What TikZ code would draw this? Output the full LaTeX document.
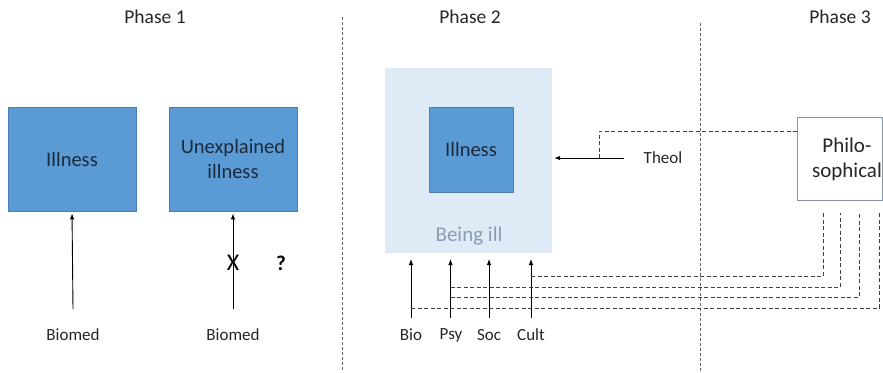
\documentclass[tikz,border=0pt]{standalone}
\usepackage{fontspec}
\setmainfont{Carlito}
\usetikzlibrary{arrows.meta}
\definecolor{boxblue}{HTML}{5B9BD5}
\definecolor{boxedge}{HTML}{4A7EB0}
\definecolor{lightbg}{HTML}{DEEAF6}
\definecolor{darktext}{HTML}{1C2A3A}
\definecolor{beingill}{HTML}{8A9DB2}
\definecolor{philedge}{HTML}{8496AC}
\definecolor{labeltext}{HTML}{262626}
\tikzset{
  bluebox/.style={draw=boxedge, fill=boxblue, line width=0.8pt, inner sep=0pt, align=center,
    text=darktext, font=\fontsize{20.5}{25}\selectfont},
  lbl/.style={text=labeltext, font=\fontsize{17}{20}\selectfont, inner sep=0pt},
  phaselbl/.style={text=black!85, font=\fontsize{19.5}{22}\selectfont, inner sep=0pt},
  divider/.style={draw=black!60, line width=0.9pt, dash pattern=on 2.5pt off 2.5pt},
  conn/.style={draw=black!75, line width=0.8pt, dash pattern=on 4pt off 2.5pt},
  arr/.style={draw=black, line width=0.9pt, -{Latex[length=6pt,width=4.5pt]}},
}
\begin{document}
\begin{tikzpicture}[x=1pt,y=-1pt]
\useasboundingbox[fill=white] (0,0) rectangle (883,372);

% phase labels
\node[phaselbl] (ph1) at (155,17) {Phase 1};
\node[phaselbl] (ph2) at (470,17) {Phase 2};
\node[phaselbl] (ph3) at (840,17) {Phase 3};

% dividers
\coordinate (d1t) at (342,17);
\coordinate (d1b) at (342,372);
\coordinate (d2t) at (700.5,23);
\coordinate (d2b) at (700.5,372);
\draw[divider] (d1t) -- (d1b);
\draw[divider] (d2t) -- (d2b);

% Phase 1
\node[bluebox, minimum width=128pt, minimum height=104pt] (ill1) at (72,159) {Illness};
\node[bluebox, minimum width=128pt, minimum height=104pt] (unex) at (233,159) {Unexplained\\illness};
\node[lbl] (bm1) at (73,335) {Biomed};
\node[lbl] (bm2) at (233,335) {Biomed};
\coordinate (t1) at (73,309);
\coordinate (t2) at (233,309);
\draw[arr, shorten >=2pt] (t1) -- (ill1.south);
\draw[arr, shorten >=2pt] (t2) -- (unex.south);
\node[text=black, font=\fontsize{24}{25}\selectfont, inner sep=0pt] (xx) at (233,263) {X};
\node[text=black, font=\bfseries\fontsize{21}{22}\selectfont, inner sep=0pt] (qq) at (281,263) {?};

% Phase 2
\node[fill=lightbg, minimum width=167pt, minimum height=185pt, inner sep=0pt] (being) at (468.5,160.5) {};
\node[bluebox, minimum width=84pt, minimum height=85pt] (ill2) at (471,149.5) {Illness};
\node[text=beingill, font=\fontsize{21}{24}\selectfont, inner sep=0pt] (bill) at (469,236) {Being ill};

\node[lbl] (bio) at (411,335) {Bio};
\node[lbl] (psy) at (451,335) {Psy};
\node[lbl] (soc) at (489,335) {Soc};
\node[lbl] (cult) at (531,335) {Cult};
\foreach \n/\x in {bio/411,psy/450.5,soc/489,cult/531}{
  \coordinate (\n t) at (\x,318);
  \coordinate (\n h) at (\x,259);
  \draw[arr] (\n t) -- (\n h);
}

% Phase 3
\node[draw=philedge, fill=white, line width=1pt, minimum width=85pt, minimum height=83pt, inner sep=0pt] (philbox) at (839.5,158.5) {};
\node[text=labeltext, font=\fontsize{21}{25}\selectfont, align=center, inner sep=0pt] (phil) at (847,159) {Philo-\\sophical};

% Theol
\node[lbl] (theol) at (663,158) {Theol};
\coordinate (ths) at (624,158);
\coordinate (thj) at (599,158);
\coordinate (thc) at (599,131);
\coordinate (thp) at (797,131);
\draw[arr, shorten >=2pt] (ths) -- (being.east |- ths);
\draw[conn] (thp) -- (thc) -- (thj);

% dashed connectors from philosophical
\coordinate (p1) at (823,213);
\coordinate (p2) at (840,213);
\coordinate (p3) at (859,213);
\coordinate (p4) at (879,213);
\draw[conn] (531,276) coordinate (c1) -- (c1 -| p1) -- (p1);
\draw[conn] (450.5,287) coordinate (c2) -- (c2 -| p2) -- (p2);
\draw[conn] (450.5,297) coordinate (c3) -- (c3 -| p3) -- (p3);
\draw[conn] (411,308) coordinate (c4) -- (c4 -| p4) -- (p4);
\end{tikzpicture}
\end{document}
